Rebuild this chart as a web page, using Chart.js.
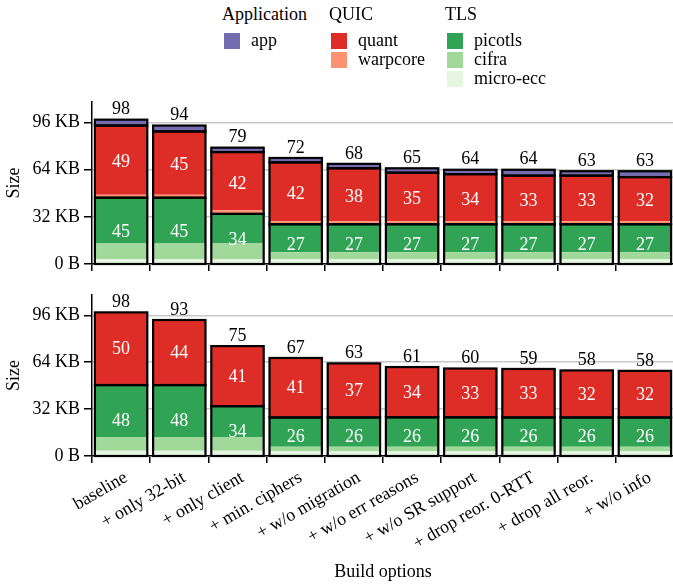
<!DOCTYPE html>
<html>
<head>
<meta charset="utf-8">
<script src="https://cdn.jsdelivr.net/npm/chart.js@4/dist/chart.umd.min.js"></script>
<style>
  html, body { margin: 0; padding: 0; background: #fff; overflow: hidden; }
  #page { position: relative; width: 673px; height: 585px; overflow: hidden; font-family: "Liberation Serif", serif; color: #000; }
  .lg { position: absolute; font-size: 18px; line-height: 18px; white-space: nowrap; }
  .sw { position: absolute; width: 16px; height: 16px; }
  canvas { position: absolute; left: 0; }
</style>
</head>
<body>
<div id="page">
  <canvas id="topChart" width="676" height="200" style="top:80px"></canvas>
  <canvas id="bottomChart" width="676" height="305" style="top:280px"></canvas>
</div>
<script>
// categories
const categories = ['baseline', '+ only 32-bit', '+ only client', '+ min. ciphers', '+ w/o migration',
  '+ w/o err reasons', '+ w/o SR support', '+ drop reor. 0-RTT', '+ drop all reor.', '+ w/o info'];

// top panel (KB)
const topMicroEcc = [3.2, 3.2, 3.2, 3.2, 3.2, 3.2, 3.2, 3.2, 3.2, 3.2];
const topCifra    = [10.8, 10.8, 10.8, 4.8, 4.8, 4.8, 4.8, 4.8, 4.8, 4.8];
const topPicotls  = [31, 31, 20, 19, 19, 19, 19, 19, 19, 19];
const topWarpcore = [2, 2, 2.5, 2, 2, 2, 2, 2, 2, 2];
const topQuant    = [47, 43, 39.5, 40, 36, 33, 32, 31, 31, 30];
const topApp      = [4, 4, 3, 3, 3, 3, 3, 4, 3, 4];

// bottom panel (KB)
const botMicroEcc = [3.5, 3.5, 3.5, 3.3, 3.3, 3.3, 3.3, 3.3, 3.3, 3.3];
const botCifra    = [9.5, 9.5, 9.5, 3, 3, 3, 3, 3, 3, 3];
const botPicotls  = [35.4, 35.4, 21, 20, 20, 20.1, 20.1, 20, 20, 20];
const botWarpcore = [0.2, 0.2, 0.7, 0.4, 0.4, 0.4, 0.4, 0.4, 0.4, 0.4];
const botQuant    = [49.4, 44.2, 40.3, 40.2, 36.5, 33.9, 32.9, 32.7, 31.7, 31.4];
const botApp      = [0, 0, 0, 0, 0, 0, 0, 0, 0, 0];

const yTicks = [0, 32, 64, 96];
const yTickLabels = ['0 B', '32 KB', '64 KB', '96 KB'];

const colors = {
  app: '#756bb1', quant: '#de2d26', warpcore: '#fc9272',
  picotls: '#31a354', cifra: '#a1d99b', 'micro-ecc': '#e5f5e0'
};

const legendGroups = [
  { title: 'Application', x: 222, items: ['app'] },
  { title: 'QUIC', x: 329, items: ['quant', 'warpcore'] },
  { title: 'TLS', x: 445, items: ['picotls', 'cifra', 'micro-ecc'] }
];

const FONT = 'Liberation Serif';
const FS = 18;

// legend
const page = document.getElementById('page');
legendGroups.forEach(g => {
  const h = document.createElement('div');
  h.className = 'lg';
  h.style.left = g.x + 'px';
  h.style.top = '5px';
  h.textContent = g.title;
  page.appendChild(h);
  g.items.forEach((name, k) => {
    const sw = document.createElement('div');
    sw.className = 'sw';
    sw.style.left = (g.x + 2) + 'px';
    sw.style.top = (33 + k * 19) + 'px';
    sw.style.background = colors[name];
    page.appendChild(sw);
    const t = document.createElement('div');
    t.className = 'lg';
    t.style.left = (g.x + 29) + 'px';
    t.style.top = (31 + k * 19) + 'px';
    t.textContent = name;
    page.appendChild(t);
  });
});

const sum = (...arrs) => arrs[0].map((_, i) => arrs.reduce((s, a) => s + a[i], 0));

// draws the black outline around each group and the value labels
const groupBoxes = {
  id: 'groupBoxes',
  afterDatasetsDraw(chart, args, opts) {
    const ctx = chart.ctx;
    const y = chart.scales.y;
    const meta = chart.getDatasetMeta(0);
    ctx.save();
    ctx.strokeStyle = '#000';
    ctx.lineWidth = 2.2;
    ctx.textAlign = 'center';
    ctx.textBaseline = 'middle';
    ctx.font = FS + 'px "' + FONT + '"';
    opts.tls.forEach((tls, i) => {
      const bar = meta.data[i];
      const x0 = bar.x - bar.width / 2, w = bar.width;
      const quic = opts.quic[i], app = opts.app[i];
      const p0 = y.getPixelForValue(0);
      const pT = y.getPixelForValue(tls);
      const pQ = y.getPixelForValue(tls + quic);
      const pA = y.getPixelForValue(tls + quic + app);
      ctx.strokeRect(x0, pT, w, p0 - pT);
      ctx.strokeRect(x0, pQ, w, pT - pQ);
      if (app > 0) ctx.strokeRect(x0, pA, w, pQ - pA);
      ctx.fillStyle = '#fff';
      ctx.fillText(Math.round(tls), bar.x, (p0 + pT) / 2 + 1);
      ctx.fillText(Math.round(quic), bar.x, (pT + pQ) / 2 + 1);
      ctx.fillStyle = '#000';
      ctx.fillText(Math.round(tls + quic + app), bar.x, pA - 10);
    });
    ctx.restore();
  }
};

function makeChart(id, d, showLabels, padTop, xHeight) {
  const ds = (label, data) => ({
    label, data, backgroundColor: colors[label], borderWidth: 0,
    barPercentage: 0.9, categoryPercentage: 1
  });
  return new Chart(document.getElementById(id).getContext('2d'), {
    type: 'bar',
    data: {
      labels: categories,
      datasets: [
        ds('micro-ecc', d.micro), ds('cifra', d.cifra), ds('picotls', d.picotls),
        ds('warpcore', d.warpcore), ds('quant', d.quant), ds('app', d.app)
      ]
    },
    plugins: [groupBoxes],
    options: {
      responsive: false,
      animation: false,
      layout: { padding: { top: padTop, right: 2, left: 0, bottom: 0 } },
      plugins: {
        legend: { display: false },
        tooltip: { enabled: false },
        groupBoxes: {
          tls: sum(d.micro, d.cifra, d.picotls),
          quic: sum(d.warpcore, d.quant),
          app: d.app
        }
      },
      scales: {
        x: {
          stacked: true,
          grid: { drawOnChartArea: false, drawTicks: true, tickLength: 7, tickColor: '#000', lineWidth: 1.5 },
          border: { color: '#000', width: 1.5 },
          ticks: {
            display: showLabels, color: '#000', minRotation: 30, maxRotation: 30, padding: 4,
            labelOffset: 5, autoSkip: false, font: { family: FONT, size: FS }
          },
          title: { display: showLabels, text: 'Build options', color: '#000', font: { family: FONT, size: FS }, padding: { top: 0, bottom: 2 } },
          afterFit: s => { s.height = xHeight; }
        },
        y: {
          stacked: true,
          min: 0, max: 110,
          afterBuildTicks: s => { s.ticks = yTicks.map(v => ({ value: v })); },
          ticks: {
            color: '#000', padding: 4, font: { family: FONT, size: FS },
            callback: v => yTickLabels[yTicks.indexOf(v)]
          },
          grid: { color: '#c8c8c8', lineWidth: 1.5, tickColor: '#000', tickLength: 8 },
          border: { color: '#000', width: 1.5 },
          title: { display: true, text: 'Size', color: '#000', font: { family: FONT, size: FS }, padding: { top: 3, bottom: 0 } },
          afterFit: s => { s.width = 92; }
        }
      }
    }
  });
}

makeChart('topChart', {
  micro: topMicroEcc, cifra: topCifra, picotls: topPicotls,
  warpcore: topWarpcore, quant: topQuant, app: topApp
}, false, 22, 16);

makeChart('bottomChart', {
  micro: botMicroEcc, cifra: botCifra, picotls: botPicotls,
  warpcore: botWarpcore, quant: botQuant, app: botApp
}, true, 13, 129);
</script>
</body>
</html>
